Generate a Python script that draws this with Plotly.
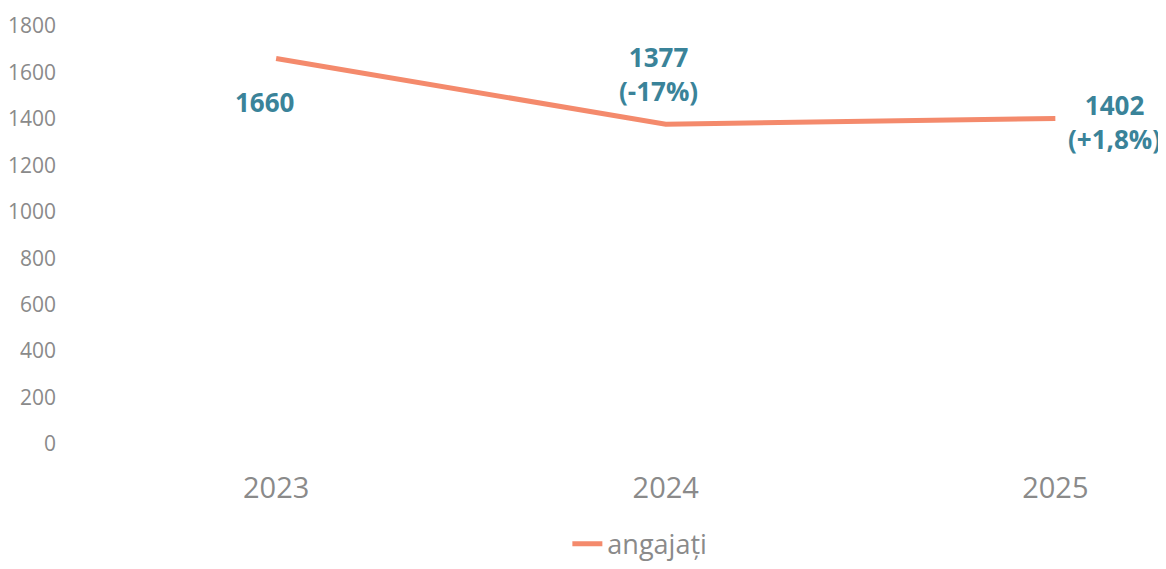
import plotly.graph_objects as go

years = ["2023", "2024", "2025"]
angajati = [1660, 1377, 1402]
label_texts = ["<b>1660</b>", "<b>1377</b><br><b>(-17%)</b>", "<b>1402</b><br><b>(+1,8%)</b>"]
y_ticks = [0, 200, 400, 600, 800, 1000, 1200, 1400, 1600, 1800]

line_color = "#F48A6C"
label_color = "#3A8399"
tick_color = "#8A8A8A"
font_family = "Open Sans, Noto Sans, sans-serif"

fig = go.Figure()
fig.add_trace(go.Scatter(
    x=[0, 1, 2], y=angajati, mode="lines", name="angajați",
    line=dict(color=line_color, width=5),
))

shifts = [(-12, -43), (-7, 50), (59, -4)]
for i, (txt, (dx, dy)) in enumerate(zip(label_texts, shifts)):
    fig.add_annotation(x=i, y=angajati[i], text=txt, showarrow=False,
                       xshift=dx, yshift=dy,
                       font=dict(family=font_family, size=26, color=label_color),
                       align="center")

fig.update_layout(
    width=1158, height=561,
    margin=dict(l=52, r=0, t=18, b=120),
    paper_bgcolor="white", plot_bgcolor="white",
    font=dict(family=font_family, color=tick_color),
    showlegend=True,
    legend=dict(orientation="h", x=0.523, xanchor="center", y=-0.24, yanchor="middle",
                font=dict(size=27, color=tick_color)),
    xaxis=dict(range=[-0.547, 2.284], tickvals=[0, 1, 2], ticktext=years,
               showgrid=False, zeroline=False, showline=False, ticks="",
               tickfont=dict(size=29, color=tick_color), ticklabelstandoff=24),
    yaxis=dict(range=[0, 1800], tickvals=y_ticks, showgrid=False, zeroline=False,
               showline=False, ticks="", tickfont=dict(size=21, color=tick_color),
               ticklabelstandoff=6),
)

fig.write_html("out.html")
